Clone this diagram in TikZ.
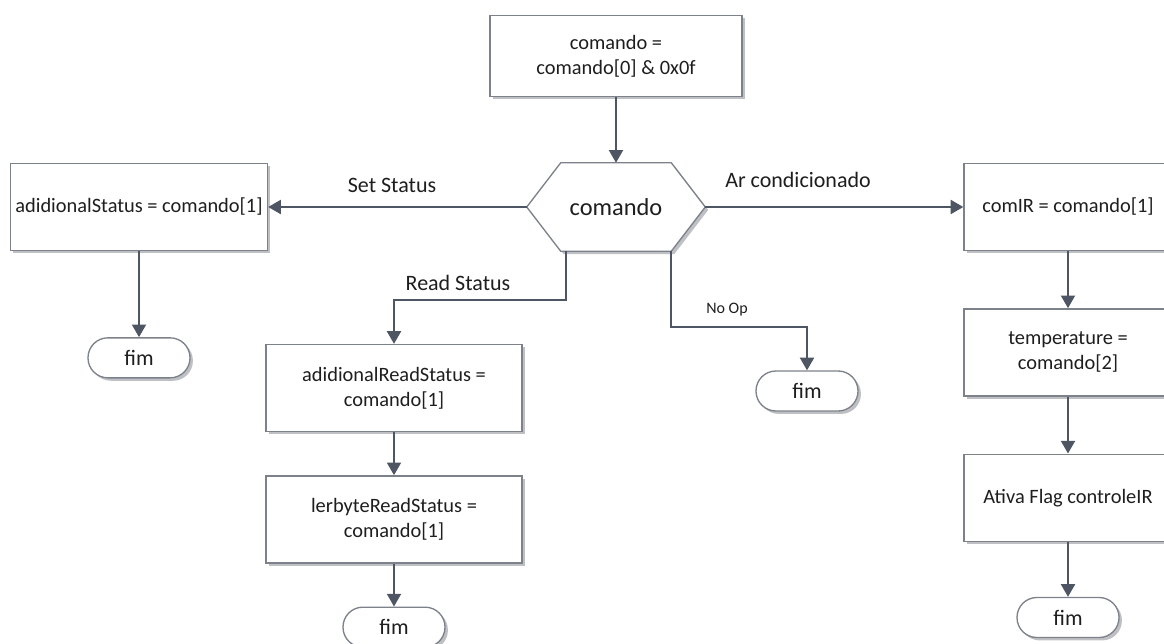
\documentclass[tikz,border=0pt]{standalone}
\usepackage{fontspec}
\setmainfont{Carlito}
\usetikzlibrary{arrows.meta,positioning,calc,shadows,backgrounds}
\definecolor{linec}{RGB}{78,86,100}
\definecolor{boxc}{RGB}{125,130,138}
\definecolor{shdc}{RGB}{190,192,196}
\definecolor{txtc}{RGB}{30,30,30}
\tikzset{
  blk/.style={draw=boxc,line width=1pt,fill=white,rectangle,minimum width=192pt,minimum height=65.25pt,inner sep=0pt,align=center,text=txtc,font=\fontsize{15.3}{18.75}\selectfont,drop shadow={shadow xshift=2.2pt,shadow yshift=-2.2pt,fill=shdc,opacity=1}},
  rgtblk/.style={blk,minimum width=156pt},
  trm/.style={blk,rounded corners=14.9pt,minimum width=76.5pt,minimum height=30pt,font=\fontsize{16.5}{19}\selectfont},
  arr/.style={-{Triangle[width=10.5pt,length=9.5pt]},line width=1.5pt,draw=linec},
  lbl/.style={font=\fontsize{16.5}{19}\selectfont,inner sep=0pt,text=txtc}
}
\begin{document}
\begin{tikzpicture}[x=0.75pt,y=-0.75pt,node distance=42.75pt]
  \path[use as bounding box,clip] (0,0) rectangle (1164,643);

  \node[blk,minimum width=189pt,minimum height=60.75pt] (init) at (616,56) {comando =\\comando[0] \& 0x0f};

  % decision hexagon
  \node[minimum width=133.5pt,minimum height=66pt,inner sep=0pt,text=txtc,font=\fontsize{18.3}{22}\selectfont] (cmd) at (616,207) {comando};
  \coordinate (cmdTL) at ($(cmd.north west)+(34,0)$);
  \coordinate (cmdTR) at ($(cmd.north east)+(-34,0)$);
  \coordinate (cmdBL) at ($(cmd.south west)+(34,0)$);
  \coordinate (cmdBR) at ($(cmd.south east)+(-34,0)$);
  \coordinate (rdOut) at ($(cmdBL)+(5,0)$);
  \begin{scope}[on background layer]
    \fill[shdc,transform canvas={shift={(2.2pt,-2.2pt)}}] (cmd.west) -- (cmdTL) -- (cmdTR) -- (cmd.east) -- (cmdBR) -- (cmdBL) -- cycle;
    \draw[boxc,line width=1pt,fill=white] (cmd.west) -- (cmdTL) -- (cmdTR) -- (cmd.east) -- (cmdBR) -- (cmdBL) -- cycle;
  \end{scope}

  % Set Status
  \node[blk,minimum width=192.75pt] (setSt) at (139,207) {adidionalStatus = comando[1]};
  \node[trm,below=64.5pt of setSt] (fimA) {fim};

  % Read Status
  \node[blk] (rdSt) at (394,388) {adidionalReadStatus =\\comando[1]};
  \node[blk,below=32.25pt of rdSt] (lerB) {lerbyteReadStatus =\\comando[1]};
  \node[trm,below=32.25pt of lerB] (fimB) {fim};

  % No Op
  \node[trm] (fimC) at (807,391) {fim};

  % Ar condicionado
  \node[rgtblk] (comIR) at (1068,207) {comIR = comando[1]};
  \node[rgtblk,below=of comIR] (temp) {temperature =\\comando[2]};
  \node[rgtblk,below=of temp] (ativa) {Ativa Flag controleIR};
  \node[trm,below=41.25pt of ativa] (fimD) {fim};

  % labels
  \node[lbl] (lblSet) at (392,185) {Set Status};
  \node[lbl] (lblAr) at (798,180) {Ar condicionado};
  \node[lbl] (lblRd) at (458,283) {Read Status};
  \node[lbl,font=\fontsize{12}{14}\selectfont] (lblNo) at (727,310) {No Op};

  \draw[arr] (init.south) -- (cmd.north);
  \draw[arr] (cmd.west) -- (setSt.east);
  \draw[arr] (cmd.east) -- (comIR.west);
  \draw[arr] (setSt) -- (fimA);
  \draw[arr] (rdOut) -- ++(0,49) -| (rdSt.north);
  \draw[arr] (rdSt) -- (lerB);
  \draw[arr] (lerB) -- (fimB);
  \draw[arr] (cmdBR) -- ++(0,76) -| (fimC.north);
  \draw[arr] (comIR) -- (temp);
  \draw[arr] (temp) -- (ativa);
  \draw[arr] (ativa) -- (fimD);
\end{tikzpicture}
\end{document}
